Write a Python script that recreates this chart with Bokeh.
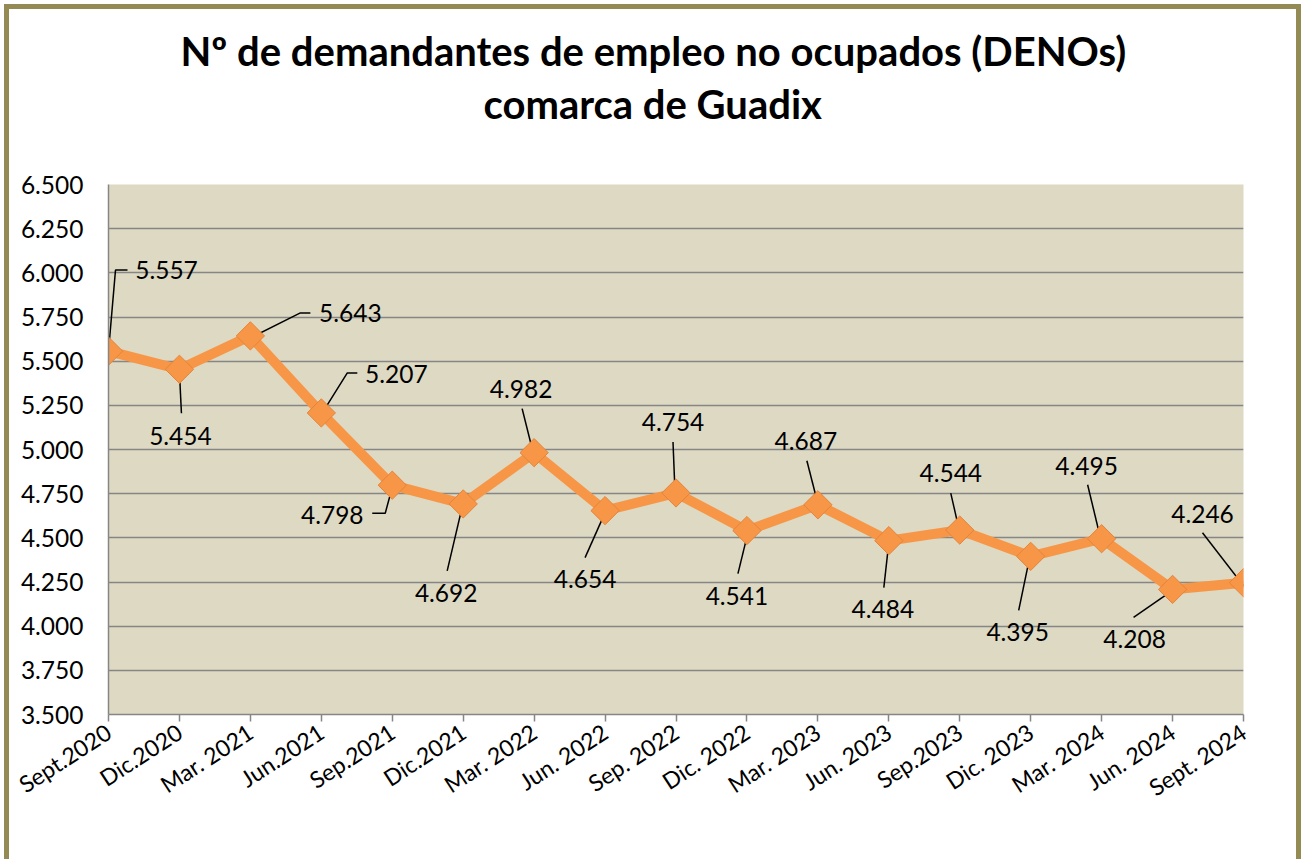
import math
from bokeh.plotting import figure
from bokeh.models import ColumnDataSource, Range1d, FixedTicker, Title
from bokeh.core.properties import value
from bokeh.embed import file_html
from bokeh.resources import INLINE

# ---------------- data ----------------
categories = ["Sept.2020", "Dic.2020", "Mar. 2021", "Jun.2021", "Sep.2021", "Dic.2021",
              "Mar. 2022", "Jun. 2022", "Sep. 2022", "Dic. 2022", "Mar. 2023", "Jun. 2023",
              "Sep.2023", "Dic. 2023", "Mar. 2024", "Jun. 2024", "Sept. 2024"]
denos = [5557, 5454, 5643, 5207, 4798, 4692, 4982, 4654, 4754, 4541, 4687, 4484,
         4544, 4395, 4495, 4208, 4246]
y_ticks = [3500, 3750, 4000, 4250, 4500, 4750, 5000, 5250, 5500, 5750, 6000, 6250, 6500]
y_tick_labels = ["3.500", "3.750", "4.000", "4.250", "4.500", "4.750", "5.000",
                 "5.250", "5.500", "5.750", "6.000", "6.250", "6.500"]
title_line1 = "Nº de demandantes de empleo no ocupados (DENOs)"
title_line2 = "comarca de Guadix"

# ---------------- data-label layout (pixel offsets, y downwards) ----------------
label_dx = [58, 1, 100, 75, -60, -17, -13, -20, -3, -10, -12, -6, -9, -13, -15, -38, -41]
label_dy = [-81, 67, -23, -39, 30, 89, -64, 68, -71, 65, -64, 68, -57, 76, -73, 50, -69]
leaders = [
    [(0, 0), (7, -81), (19, -81)],
    [(0, 3), (2, 44)],
    [(0, 2), (50, -23), (60, -23)],
    [(1, 0), (26, -40), (36, -40)],
    [(0, 2), (-7, 28), (-20, 28)],
    [(-1, 3), (-16, 67)],
    [(-12, -44), (-1, 0)],
    [(0, 2), (-20, 47)],
    [(-3, -51), (-1, -1)],
    [(1, 2), (-9, 43)],
    [(-11, -44), (0, -1)],
    [(0, 2), (-5, 47)],
    [(-9, -37), (-1, -2)],
    [(-1, 1), (-12, 54)],
    [(-14, -54), (-1, 0)],
    [(0, 1), (-39, 28)],
    [(-41, -50), (0, 3)],
]

# ---------------- geometry ----------------
W, H = 1287, 850
FL, FT, FW, FH = 99, 175, 1135, 530
FONT = "Lato"
n = len(categories)
x = list(range(n))
px_x = (n - 1) / FW          # data units per pixel
px_y = (y_ticks[-1] - y_ticks[0]) / FH

p = figure(frame_width=FW, frame_height=FH,
           min_border_left=FL, min_border_right=W - FL - FW,
           min_border_top=FT, min_border_bottom=H - FT - FH,
           x_range=Range1d(0, n - 1), y_range=Range1d(y_ticks[0], y_ticks[-1]),
           output_backend="svg", toolbar_location=None,
           background_fill_color="#DDD9C3", border_fill_color="white")
p.styles = {"margin-left": "4px", "margin-top": "4px",
            "border-left": "5px solid #948A54", "border-top": "5px solid #948A54",
            "border-right": "5px solid #948A54"}
p.outline_line_color = None

# grid
p.xgrid.visible = False
p.ygrid.ticker = FixedTicker(ticks=y_ticks)
p.ygrid.grid_line_color = "#868686"
p.ygrid.grid_line_width = 1.5

# axes
xa = p.xaxis[0]
xa.ticker = FixedTicker(ticks=x)
xa.major_label_overrides = {i: c for i, c in enumerate(categories)}
xa.major_label_orientation = math.radians(33)
xa.major_label_text_font = FONT
xa.major_label_text_font_size = "23px"
xa.major_label_text_color = "black"
xa.major_label_standoff = 8
xa.axis_line_color = "#868686"
xa.axis_line_width = 1.5
xa.major_tick_line_color = "#868686"
xa.major_tick_line_width = 1.5
xa.major_tick_out = 7
xa.major_tick_in = 0
xa.minor_tick_line_color = None

ya = p.yaxis[0]
ya.ticker = FixedTicker(ticks=y_ticks)
ya.major_label_overrides = {t: l for t, l in zip(y_ticks, y_tick_labels)}
ya.major_label_text_font = FONT
ya.major_label_text_font_size = "24.5px"
ya.major_label_text_color = "black"
ya.major_label_standoff = 25
ya.axis_line_color = "#868686"
ya.axis_line_width = 1.5
ya.major_tick_out = 0
ya.major_tick_in = 0
ya.minor_tick_line_color = None

# series
src = ColumnDataSource(dict(
    x=x, y=denos,
    label=[f"{v:,}".replace(",", ".") for v in denos],
    dx=label_dx, dy=label_dy,
))

# leader lines
lx, ly = [], []
for xi, yi, pts in zip(x, denos, leaders):
    lx.append([xi + dx * px_x for dx, dy in pts])
    ly.append([yi - dy * px_y for dx, dy in pts])
p.multi_line(lx, ly, line_color="black", line_width=1.5)

p.line("x", "y", source=src, line_color="#F79646", line_width=10, line_join="miter")
p.scatter("x", "y", source=src, marker="square", angle=math.pi / 4, size=20,
          fill_color="#F79646", line_color="#E4843A", line_width=1)

p.text("x", "y", text="label", source=src, x_offset="dx", y_offset="dy",
       text_font=value(FONT), text_font_size="24.5px", text_color="black",
       text_align="center", text_baseline="middle")

# titles (first added sits closest to the plot)
p.add_layout(Title(text=" ", text_font_size="1px", standoff=54), "above")   # spacer
p.add_layout(Title(text=title_line2, align="left", offset=375, text_font=FONT,
                   text_font_style="bold", text_font_size="40px", text_color="black",
                   standoff=0), "above")
p.add_layout(Title(text=title_line1, align="left", offset=72, text_font=FONT,
                   text_font_style="bold", text_font_size="40px", text_color="black",
                   standoff=6), "above")

open("out.html", "w").write(file_html(p, INLINE))
